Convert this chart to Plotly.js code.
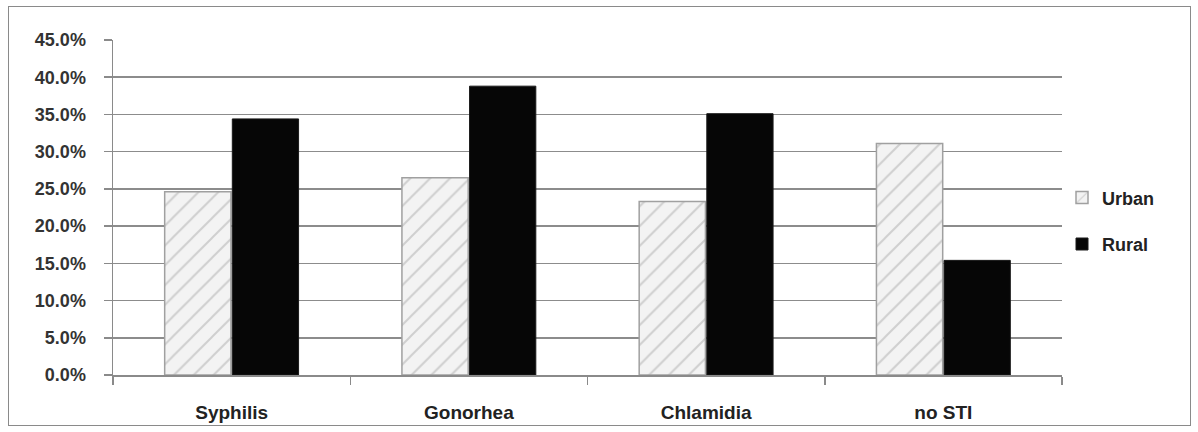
<!DOCTYPE html>
<html>
<head>
<meta charset="utf-8">
<script src="https://cdn.plot.ly/plotly-3.0.1.min.js"></script>
<style>
  html, body { margin: 0; padding: 0; background: #fff; }
  #wrap { position: relative; width: 1198px; height: 432px; }
  #chart { position: absolute; left: 0; top: 0; width: 1198px; height: 432px; }
  #frame { position: absolute; left: 8px; top: 6px; width: 1181px; height: 418px;
           border: 1px solid #8a8a8a; pointer-events: none; }
</style>
</head>
<body>
<div id="wrap">
  <div id="chart"></div>
  <div id="frame"></div>
</div>
<script>
const categories = ["Syphilis", "Gonorhea", "Chlamidia", "no STI"];
const urbanValues = [24.6, 26.5, 23.3, 31.1];
const ruralValues = [34.4, 38.8, 35.1, 15.4];
const seriesNames = ["Urban", "Rural"];

const urban = {
  type: "bar",
  name: seriesNames[0],
  x: categories,
  y: urbanValues,
  legendgroup: "u",
  marker: {
    color: "#f1f1f1",
    line: { color: "#a0a0a0", width: 1.5 },
    pattern: { shape: "/", bgcolor: "#f3f3f3", fgcolor: "#cfcfcf", size: 14, solidity: 0.14 }
  },
  hoverinfo: "skip"
};
const rural = {
  type: "bar",
  name: seriesNames[1],
  x: categories,
  y: ruralValues,
  legendgroup: "r",
  marker: { color: "#060606", line: { color: "#1a1a1a", width: 1 } },
  hoverinfo: "skip"
};

const yFont = { family: "Liberation Sans, Arial, sans-serif", size: 18, color: "#333", weight: "bold" };
const xFont = { family: "Liberation Sans, Arial, sans-serif", size: 19, color: "#222", weight: "bold" };
const legFont = { family: "Liberation Sans, Arial, sans-serif", size: 18, color: "#222", weight: "bold" };

const layout = {
  width: 1198,
  height: 432,
  margin: { l: 113, r: 136, t: 40, b: 57, pad: 0 },
  paper_bgcolor: "#ffffff",
  plot_bgcolor: "#ffffff",
  barmode: "group",
  bargap: 0.43,
  bargroupgap: 0.02,
  showlegend: true,
  legend: {
    x: 1.0, xanchor: "left", y: 0.46, yanchor: "middle",
    font: legFont,
    tracegroupgap: 20,
    traceorder: "grouped",
    itemwidth: 30
  },
  xaxis: {
    type: "category",
    showline: true, linecolor: "#8a8a8a", linewidth: 1.5,
    ticks: "outside", tickson: "boundaries", ticklen: 8, tickcolor: "#8a8a8a", tickwidth: 1.5,
    tickfont: xFont,
    ticklabelstandoff: 20,
    showgrid: false, zeroline: false
  },
  yaxis: {
    range: [0, 45],
    dtick: 5,
    tickformat: ".1f",
    ticksuffix: "%",
    showline: true, linecolor: "#8a8a8a", linewidth: 1.5,
    ticks: "outside", ticklen: 8, tickcolor: "#8a8a8a", tickwidth: 1.5,
    showgrid: true, gridcolor: "#8c8c8c", gridwidth: 1.5,
    zeroline: false,
    tickfont: yFont,
    ticklabelstandoff: 14
  }
};

Plotly.newPlot("chart", [urban, rural], layout, { staticPlot: true, displayModeBar: false });
</script>
</body>
</html>
